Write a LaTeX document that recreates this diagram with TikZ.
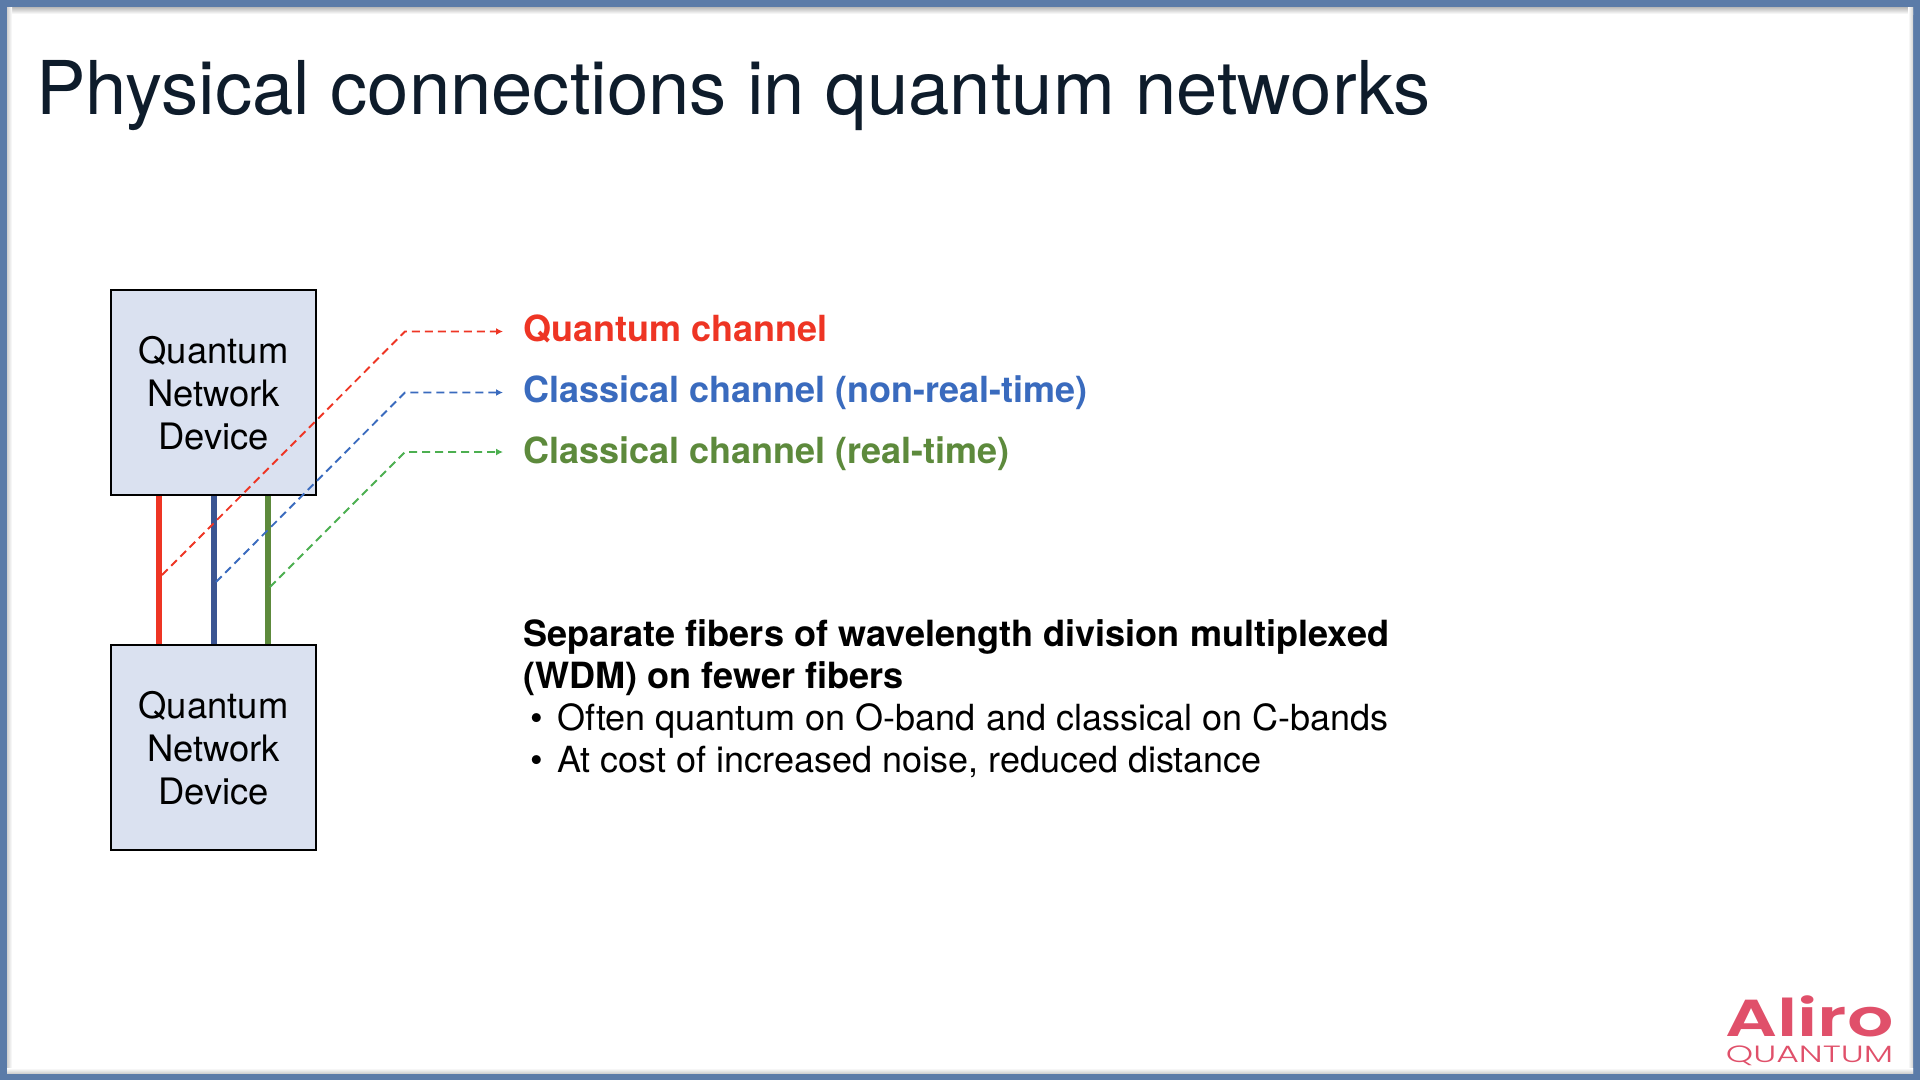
\documentclass[tikz,border=0pt]{standalone}
\usepackage{fontspec}
\usepackage{graphicx}
\setmainfont{TeX Gyre Heros}
\newfontfamily\logofont{Poppins SemiBold}
\newfontfamily\logolight{Poppins Light}
\usetikzlibrary{arrows.meta}
\definecolor{frameblue}{HTML}{5B7BA8}
\definecolor{boxfill}{HTML}{DAE1F0}
\definecolor{titleink}{HTML}{0E1C2B}
\definecolor{qred}{HTML}{EE3524}
\definecolor{cblue}{HTML}{3A6BBE}
\definecolor{cgreen}{HTML}{5D8A3C}
\definecolor{fiberblue}{HTML}{3B5592}
\definecolor{dashgreen}{HTML}{4CAF50}
\definecolor{logored}{HTML}{E0506A}
\tikzset{
  x=1pt,y=-1pt,
  devicebox/.style={draw=black,line width=2pt,fill=boxfill,minimum width=205pt,minimum height=205pt,inner sep=0pt},
  devicetext/.style={anchor=base,inner sep=0pt,font=\fontsize{36.4}{43}\selectfont},
  fiber/.style={line width=6pt},
  leader/.style={line width=1.9pt,dash pattern=on 8pt off 5pt,-{Latex[length=7pt,width=7pt]}},
  legendtext/.style={anchor=base west,inner sep=0pt,font=\fontsize{36}{42}\selectfont\bfseries},
  bodytext/.style={anchor=base west,inner sep=0pt,text=black,font=\fontsize{36}{42}\selectfont},
  headtext/.style={anchor=base west,inner sep=0pt,text=black,font=\fontsize{36.1}{42}\selectfont\bfseries}
}
\begin{document}
\begin{tikzpicture}
\useasboundingbox (0,0) rectangle (1920,1080);
% frame
\fill[frameblue] (0,0) rectangle (1920,1080);
\fill[white] (7,7) rectangle (1913,1073);
\shade[top color=black!28,bottom color=white] (7,7) rectangle (1913,14);
\shade[left color=black!18,right color=white] (7,7) rectangle (12,1073);
\shade[left color=white,right color=black!18] (1908,7) rectangle (1913,1073);
\shade[top color=white,bottom color=black!18] (7,1068) rectangle (1913,1073);
% title
\node[anchor=base west,inner sep=0pt,text=titleink,font=\fontsize{74.2}{80}\selectfont] (title) at (36,114) {Physical connections in quantum networks};
% devices
\node[devicebox] (dev1) at (213.5,392.5) {};
\node[devicebox] (dev2) at (213.5,747.5) {};
\node[devicetext] (d1a) at (213.5,363) {Quantum};
\node[devicetext] (d1b) at (213.5,406) {Network};
\node[devicetext] (d1c) at (213.5,449) {Device};
\node[devicetext] (d2a) at (213.5,718) {Quantum};
\node[devicetext] (d2b) at (213.5,761) {Network};
\node[devicetext] (d2c) at (213.5,804) {Device};
% fibers
\coordinate (r1) at (159,496); \coordinate (r2) at (159,644);
\coordinate (b1) at (213.5,496); \coordinate (b2) at (213.5,644);
\coordinate (g1) at (268,496); \coordinate (g2) at (268,644);
\draw[fiber,qred] (r1) -- (r2);
\draw[fiber,fiberblue] (b1) -- (b2);
\draw[fiber,cgreen] (g1) -- (g2);
% legend
\node[legendtext,text=qred] (lq) at (523,341.5) {Quantum channel};
\node[legendtext,text=cblue] (lb) at (523,402) {Classical channel (non-real-time)};
\node[legendtext,text=cgreen] (lg) at (523,463) {Classical channel (real-time)};
% leaders
\coordinate (qs) at (162,575); \coordinate (qk) at (405,331.5); \coordinate (qe) at (503,331.5);
\coordinate (bs) at (216,582); \coordinate (bk) at (405,392.5); \coordinate (be) at (503,392.5);
\coordinate (gs) at (270,587); \coordinate (gk) at (405,452); \coordinate (ge) at (503,452);
\draw[leader,qred] (qs) -- (qk) -- (qe);
\draw[leader,cblue] (bs) -- (bk) -- (be);
\draw[leader,dashgreen] (gs) -- (gk) -- (ge);
% body
\node[headtext] (h1) at (523,646) {Separate fibers of wavelength division multiplexed};
\node[headtext] (h2) at (523,688) {(WDM) on fewer fibers};
\node[bodytext] (bu1) at (530,730) {•};
\node[bodytext] (t1) at (557,730) {Often quantum on O-band and classical on C-bands};
\node[bodytext] (bu2) at (530,772) {•};
\node[bodytext] (t2) at (557,772) {At cost of increased noise, reduced distance};
% logo
\node[anchor=base,inner sep=0pt,text=logored,align=center,font=\fontsize{24}{26}\selectfont] (logo) at (1809.5,1062)
  {\scalebox{1.4}[1]{\logofont\fontsize{52}{52}\selectfont Aliro}\\[0pt]\scalebox{1.48}[1]{\logolight\fontsize{23.5}{24}\selectfont QUANTUM}};
\end{tikzpicture}
\end{document}
